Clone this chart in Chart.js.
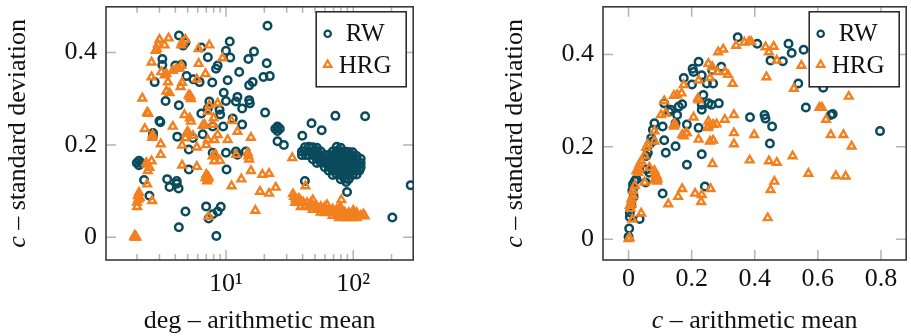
<!DOCTYPE html>
<html>
<head>
<meta charset="utf-8">
<script src="https://cdn.jsdelivr.net/npm/chart.js@4.4.1/dist/chart.umd.min.js"></script>
<style>
  html, body { margin: 0; padding: 0; background: #fff; width: 911px; height: 336px; overflow: hidden; }
  .box { position: absolute; top: 0; height: 336px; }
  #left { left: 0; width: 420px; }
  #right { left: 497px; width: 416px; }
</style>
</head>
<body>
<div class="box" id="left"><canvas id="degChart"></canvas></div>
<div class="box" id="right"><canvas id="cChart"></canvas></div>
<script>
// Series labels
const SERIES = ["RW", "HRG"];

// Left plot: [deg - arithmetic mean, c - standard deviation]
const rwDeg = [
  [21.2,0.458],[4.27,0.437],[4.8,0.422],[4.6,0.415],[6.4,0.411],[10.7,0.424],[10.0,0.404],[10.8,0.389],[7.2,0.39],
  [16.6,0.402],[15.0,0.386],[3.16,0.386],[3.16,0.373],[4.0,0.372],[4.5,0.374],[8.6,0.372],[8.35,0.365],[20.9,0.377],
  [12.7,0.358],[19.7,0.347],[22.1,0.349],[16.2,0.336],[15.2,0.329],[10.3,0.34],[7.8,0.335],[6.2,0.336],[5.55,0.342],
  [4.9,0.349],[2.75,0.336],[9.6,0.313],[12.3,0.304],[15.2,0.297],[15.4,0.29],[10.0,0.295],[11.97,0.294],[13.4,0.279],
  [3.35,0.295],[4.26,0.286],[7.4,0.294],[7.2,0.279],[6.4,0.268],[8.9,0.276],[9.0,0.266],[20.3,0.27],[11.3,0.257],
  [13.4,0.244],[3.0,0.252],[3.05,0.249],[7.86,0.24],[9.5,0.24],[4.14,0.218],[5.5,0.215],[6.56,0.223],[2.67,0.226],
  [2.67,0.219],[25.4,0.208],[28.5,0.2],[7.86,0.183],[10.0,0.183],[11.97,0.186],[12.3,0.179],[14.3,0.186],[5.1,0.19],
  [5.1,0.147],[10.1,0.147],[2.27,0.124],[3.45,0.126],[4.1,0.122],[3.6,0.109],[4.24,0.106],[4.1,0.116],[2.5,0.09],
  [4.8,0.056],[6.98,0.067],[7.3,0.041],[7.86,0.05],[8.6,0.056],[9.1,0.066],[4.26,0.022],[8.4,0.003],
  [72.4,0.263],[124,0.262],[47,0.247],[56.5,0.232],[39.8,0.22],[41.7,0.122],[89.4,0.098],[203,0.043],[283,0.113],
  [26.5,0.235],[24.4,0.235],[25.4,0.2399],[25.4,0.2301],
  [2.16,0.161],[1.99,0.161],[2.07,0.1659],[2.07,0.1561],
  [41.7,0.195],[44.8,0.196],[48.1,0.195],[51.8,0.194],[74.2,0.196],[79.7,0.194],
  [39.5,0.186],[41.7,0.187],[44.8,0.186],[48.1,0.186],[51.8,0.187],[55.6,0.186],[69.0,0.186],[74.2,0.187],[79.7,0.186],
  [85.7,0.186],[92.1,0.185],[99.0,0.184],
  [39.5,0.178],[42.5,0.178],[44.8,0.179],[48.1,0.178],[51.8,0.178],[55.6,0.177],[59.8,0.178],[64.2,0.178],[69.0,0.178],
  [74.2,0.178],[79.7,0.179],[85.7,0.178],[92.1,0.178],[99.0,0.177],[106.4,0.176],
  [48.1,0.169],[51.8,0.17],[55.6,0.169],[59.8,0.169],[64.2,0.17],[69.0,0.169],[74.2,0.169],[79.7,0.168],[85.7,0.169],
  [92.1,0.169],[99.0,0.17],[106.4,0.169],[114.4,0.17],
  [51.8,0.161],[55.6,0.162],[59.8,0.161],[64.2,0.161],[69.0,0.16],[74.2,0.161],[79.7,0.161],[85.7,0.162],[92.1,0.161],
  [99.0,0.161],[106.4,0.16],[114.4,0.161],
  [59.8,0.152],[64.2,0.153],[69.0,0.152],[74.2,0.152],[79.7,0.152],[85.7,0.151],[92.1,0.152],[99.0,0.152],[106.4,0.153],
  [114.4,0.152],
  [64.2,0.144],[69.0,0.144],[74.2,0.145],[79.7,0.144],[85.7,0.144],[92.1,0.143],[99.0,0.144],[106.4,0.144],[112,0.145],
  [69.0,0.135],[74.2,0.136],[79.7,0.135],[85.7,0.135],[92.1,0.136],[99.0,0.135],[106.4,0.136],
  [79.7,0.126],[85.7,0.127],[92.1,0.126],[88,0.12]
];
const hrgDeg = [
  [3.0,0.428],[3.54,0.431],[2.92,0.418],[3.29,0.416],[2.8,0.404],[2.86,0.408],[4.52,0.422],[4.8,0.428],[4.45,0.416],
  [7.4,0.416],[6.1,0.408],[9.4,0.388],[2.6,0.379],[2.6,0.347],[3.1,0.358],[3.3,0.351],[3.4,0.354],[3.82,0.361],
  [4.07,0.365],[4.45,0.372],[4.32,0.366],[6.1,0.376],[6.9,0.354],[5.9,0.342],[4.52,0.335],[3.5,0.336],[3.4,0.316],
  [3.6,0.313],[4.4,0.326],[5.2,0.304],[5.1,0.308],[5.3,0.3],[5.25,0.306],[2.2,0.301],[2.4,0.27],[2.45,0.268],
  [7.4,0.286],[8.6,0.29],[7.2,0.272],[4.72,0.265],[5.2,0.258],[5.3,0.251],[6.77,0.244],[8.0,0.258],[3.82,0.24],
  [11.06,0.252],[2.3,0.235],[2.63,0.216],[2.65,0.222],[3.07,0.202],[3.07,0.179],[4.52,0.199],[5.9,0.195],[4.9,0.225],
  [5.5,0.22],[5.0,0.229],[4.8,0.215],[7.0,0.2],[6.56,0.242],[7.86,0.244],[8.6,0.222],[8.1,0.211],[7.2,0.211],
  [10.3,0.211],[12.3,0.229],[15.7,0.216],[8.1,0.165],[8.96,0.166],[8.25,0.179],[7.86,0.176],[12.0,0.179],[14.8,0.183],
  [15.2,0.169],[15.0,0.176],[15.7,0.144],[19.3,0.136],[21.8,0.138],[13.2,0.126],[11.06,0.111],[18.5,0.099],
  [21.8,0.095],[24.6,0.108],[17.0,0.058],[33.2,0.172],[7.0,0.136],[7.2,0.126],[6.9,0.129],[7.1,0.132],[7.3,0.13],
  [7.1,0.122],[4.52,0.156],[5.9,0.153],[2.4,0.158],[2.5,0.151],[2.43,0.144],[2.6,0.165],[2.36,0.161],[2.07,0.097],
  [2.03,0.09],[2.1,0.086],[2.0,0.076],[2.0,0.066],[2.05,0.082],[2.4,0.115],[2.63,0.079],[1.92,0.004],[1.95,0.002],
  [1.9,0.001],[1.93,0.0],[1.97,0.0],[7.3,0.045],[42.1,0.111],[80.6,0.081],
  [33.6,0.094],[35.3,0.083],[34.3,0.088],[36.3,0.076],[38.6,0.079],[37.3,0.084],
  [35.0,0.075],[37.4,0.075],[40.3,0.076],[43.3,0.075],[46.5,0.075],[48.1,0.081],
  [38.7,0.066],[41.7,0.067],[44.8,0.066],[48.1,0.066],[51.8,0.067],[55.6,0.066],[59.8,0.066],[62.3,0.07],
  [48.1,0.06],[51.8,0.06],[55.6,0.061],[59.8,0.06],[64.2,0.06],[69.0,0.061],[74.2,0.06],[79.7,0.06],[79,0.066],
  [55.6,0.054],[59.8,0.053],[64.2,0.054],[69.0,0.053],[74.2,0.054],[79.7,0.053],[85.7,0.054],[92.1,0.053],
  [99.0,0.054],[100,0.058],[106.4,0.053],
  [69.0,0.047],[74.2,0.047],[79.7,0.048],[85.7,0.047],[92.1,0.047],[99.0,0.048],[106.4,0.047],[114.4,0.047],
  [120,0.05],[123,0.046],[77.3,0.042],[85.7,0.042],[95.5,0.042],[106.4,0.042]
];

// Right plot: [c - arithmetic mean, c - standard deviation]
const rwC = [
  [0.346,0.437],[0.408,0.423],[0.507,0.423],[0.517,0.403],[0.555,0.41],[0.45,0.387],[0.489,0.385],[0.538,0.337],
  [0.617,0.328],[0.562,0.285],[0.641,0.269],[0.647,0.271],[0.797,0.234],[0.385,0.264],[0.431,0.269],[0.434,0.261],
  [0.455,0.244],[0.448,0.207],[0.222,0.384],[0.203,0.369],[0.206,0.362],[0.294,0.373],[0.265,0.366],[0.232,0.355],
  [0.248,0.337],[0.201,0.335],[0.268,0.337],[0.175,0.349],[0.237,0.312],[0.232,0.291],[0.253,0.294],[0.263,0.291],
  [0.286,0.294],[0.232,0.28],[0.113,0.294],[0.134,0.28],[0.154,0.269],[0.17,0.292],[0.159,0.287],[0.128,0.276],
  [0.082,0.251],[0.108,0.244],[0.077,0.237],[0.185,0.248],[0.222,0.241],[0.149,0.251],[0.072,0.219],[0.077,0.212],
  [0.066,0.205],[0.113,0.214],[0.149,0.201],[0.118,0.187],[0.185,0.161],[0.232,0.184],[0.056,0.18],[0.061,0.187],
  [0.066,0.144],[0.056,0.151],[0.054,0.123],[0.02,0.126],[0.014,0.119],[0.025,0.13],[0.014,0.109],[0.012,0.105],
  [0.016,0.092],[0.108,0.099],[0.242,0.114],[0.009,0.073],[0.004,0.058],[0.004,0.048],[0.035,0.044],[0.002,0.023],
  [0.0,0.005]
];
const hrgC = [
  [0.341,0.419],[0.367,0.426],[0.382,0.428],[0.389,0.427],[0.284,0.405],[0.3,0.411],[0.434,0.416],[0.46,0.417],
  [0.445,0.405],[0.47,0.387],[0.548,0.376],[0.437,0.351],[0.253,0.38],[0.265,0.373],[0.282,0.362],[0.306,0.362],
  [0.315,0.356],[0.33,0.337],[0.222,0.344],[0.258,0.349],[0.175,0.334],[0.524,0.326],[0.698,0.309],[0.605,0.285],
  [0.613,0.285],[0.626,0.259],[0.168,0.316],[0.154,0.312],[0.144,0.311],[0.222,0.301],[0.22,0.305],[0.113,0.299],
  [0.103,0.269],[0.118,0.273],[0.334,0.269],[0.305,0.259],[0.253,0.255],[0.251,0.241],[0.206,0.264],[0.144,0.244],
  [0.147,0.249],[0.17,0.226],[0.182,0.23],[0.222,0.216],[0.258,0.212],[0.268,0.214],[0.334,0.23],[0.334,0.206],
  [0.398,0.226],[0.384,0.171],[0.445,0.169],[0.47,0.166],[0.52,0.18],[0.266,0.163],[0.57,0.142],[0.657,0.137],
  [0.688,0.136],[0.462,0.125],[0.45,0.107],[0.441,0.046],[0.17,0.109],[0.157,0.092],[0.211,0.099],[0.232,0.096],
  [0.23,0.081],[0.26,0.109],[0.126,0.076],[0.04,0.056],[0.012,0.043],[0.0,0.001],[0.003,0.003],[0.641,0.226],
  [0.681,0.226],[0.707,0.201],[0.082,0.234],[0.082,0.212],[0.061,0.205],[0.056,0.198],[0.051,0.18],[0.04,0.169],
  [0.035,0.162],[0.033,0.151],[0.03,0.144],[0.025,0.148],[0.066,0.155],[0.082,0.148],[0.087,0.133],[0.092,0.13],
  [0.082,0.128],[0.089,0.137],[0.085,0.14],[0.09,0.125],[0.051,0.123],[0.02,0.116],[0.014,0.105],[0.014,0.094],
  [0.009,0.087],[0.009,0.076],[0.006,0.066],[0.004,0.073],[0.185,0.23],[0.175,0.223],[0.268,0.248],[0.279,0.249],
  [0.253,0.244],[0.144,0.248]
];

// Axis ticks
const DEG_TICKS = [10, 100];
const DEG_TICK_LABELS = ["10\u00B9", "10\u00B2"];
const DEG_MINOR = [2, 3, 4, 5, 6, 7, 8, 9, 20, 30, 40, 50, 60, 70, 80, 90, 200];
const C_TICKS = [0, 0.2, 0.4, 0.6, 0.8];
const C_TICK_LABELS = ["0", "0.2", "0.4", "0.6", "0.8"];
const Y_TICKS = [0, 0.2, 0.4];
const Y_TICK_LABELS = ["0", "0.2", "0.4"];

const TEAL = "#0a4a5d";
const ORANGE = "#f2801f";
const FONT = '"Liberation Serif", "Times New Roman", serif';

function drawParts(ctx, parts, x, y, size) {
  let w = 0;
  parts.forEach((p) => {
    ctx.font = (p[1] ? "italic " : "") + size + "px " + FONT;
    p.w = ctx.measureText(p[0]).width;
    w += p.w;
  });
  let cx = x - w / 2;
  ctx.textAlign = "left";
  ctx.textBaseline = "alphabetic";
  parts.forEach((p) => {
    ctx.font = (p[1] ? "italic " : "") + size + "px " + FONT;
    ctx.fillText(p[0], cx, y);
    cx += p.w;
  });
}

// Box, inward ticks, legend and axis titles
const framePlugin = {
  id: "frame",
  afterDatasetsDraw(chart, args, o) {
    const { ctx, chartArea: a, scales } = chart;
    ctx.save();
    ctx.strokeStyle = "#b3b3b3";
    ctx.lineWidth = 1.5;
    ctx.beginPath();
    const tickX = (v, len) => {
      const p = scales.x.getPixelForValue(v);
      ctx.moveTo(p, a.bottom); ctx.lineTo(p, a.bottom - len);
      ctx.moveTo(p, a.top); ctx.lineTo(p, a.top + len);
    };
    o.xMajor.forEach((v) => tickX(v, 10));
    (o.xMinor || []).forEach((v) => tickX(v, 6));
    o.yMajor.forEach((v) => {
      const p = scales.y.getPixelForValue(v);
      ctx.moveTo(a.left, p); ctx.lineTo(a.left + 10, p);
      ctx.moveTo(a.right, p); ctx.lineTo(a.right - 10, p);
    });
    ctx.stroke();
    ctx.strokeStyle = "#3a3a3a";
    ctx.lineWidth = 1.6;
    ctx.strokeRect(a.left, a.top, a.width, a.height);

    // legend
    const lx = a.right - 97, ly = a.top + 5, lw = 90, lh = 75;
    ctx.fillStyle = "#fff";
    ctx.fillRect(lx, ly, lw, lh);
    ctx.strokeStyle = "#222";
    ctx.lineWidth = 1.5;
    ctx.strokeRect(lx, ly, lw, lh);
    const marks = [
      { style: "circle", color: TEAL, r: 3.2, w: 2.2, y: ly + 22, ty: ly + 29 },
      { style: "triangle", color: ORANGE, r: 4.3, w: 2.2, y: ly + 53, ty: ly + 61.5 },
    ];
    marks.forEach((m, i) => {
      ctx.strokeStyle = m.color;
      ctx.fillStyle = "rgba(0,0,0,0)";
      ctx.lineWidth = m.w;
      Chart.helpers.drawPoint(ctx, { pointStyle: m.style, radius: m.r, rotation: 0, borderWidth: m.w }, lx + 11.5, m.y);
      ctx.fillStyle = "#111";
      ctx.font = "25px " + FONT;
      ctx.textAlign = "center";
      ctx.textBaseline = "alphabetic";
      ctx.fillText(SERIES[i], lx + 49, m.ty);
    });

    // axis titles
    ctx.fillStyle = "#111";
    drawParts(ctx, o.xTitle, (a.left + a.right) / 2, 328, 26);
    ctx.translate(25, (a.top + a.bottom) / 2);
    ctx.rotate(-Math.PI / 2);
    drawParts(ctx, o.yTitle, 0, 0, 26);
    ctx.restore();
  },
};

function makeChart(id, opts) {
  return new Chart(document.getElementById(id), {
    type: "scatter",
    data: {
      datasets: [
        {
          label: SERIES[0],
          data: opts.rw.map(([x, y]) => ({ x, y })),
          pointStyle: "circle",
          pointRadius: 3.75,
          pointHoverRadius: 3.75,
          borderWidth: 2.5,
          borderColor: TEAL,
          backgroundColor: "rgba(0,0,0,0)",
          order: 1,
        },
        {
          label: SERIES[1],
          data: opts.hrg.map(([x, y]) => ({ x, y })),
          pointStyle: "triangle",
          pointRadius: 4.4,
          pointHoverRadius: 4.4,
          borderWidth: 2.4,
          borderColor: ORANGE,
          backgroundColor: "rgba(0,0,0,0)",
          order: 0,
        },
      ],
    },
    options: {
      responsive: true,
      maintainAspectRatio: false,
      animation: false,
      devicePixelRatio: 1,
      layout: { padding: { top: 4, right: opts.padRight, left: 0, bottom: 0 } },
      plugins: {
        legend: { display: false },
        tooltip: { enabled: false },
        frame: { xMajor: opts.xTicks, xMinor: opts.xMinor, yMajor: Y_TICKS, xTitle: opts.xTitle, yTitle: [["c", true], [" \u2013 standard deviation", false]] },
      },
      scales: {
        x: {
          type: opts.xType,
          min: opts.xMin,
          max: opts.xMax,
          grid: { display: false, drawTicks: false },
          border: { display: false },
          afterBuildTicks: (s) => { s.ticks = opts.xTicks.map((v) => ({ value: v })); },
          afterFit: (s) => { s.height = 76; s.paddingLeft = 0; s.paddingRight = 0; },
          ticks: {
            autoSkip: false,
            maxRotation: 0,
            padding: opts.xPad,
            color: "#111",
            font: { family: FONT, size: 26 },
            callback: (v, i) => opts.xLabels[i],
          },
        },
        y: {
          min: opts.yMin,
          max: opts.yMax,
          grid: { display: false, drawTicks: false },
          border: { display: false },
          afterBuildTicks: (s) => { s.ticks = Y_TICKS.map((v) => ({ value: v })); },
          afterFit: (s) => { s.width = 106; s.paddingTop = 0; s.paddingBottom = 0; },
          ticks: {
            padding: 9,
            color: "#111",
            font: { family: FONT, size: 26 },
            callback: (v, i) => Y_TICK_LABELS[i],
          },
        },
      },
    },
    plugins: [framePlugin],
  });
}

makeChart("degChart", {
  rw: rwDeg, hrg: hrgDeg, xType: "logarithmic", xMin: 1.14, xMax: 296,
  xTicks: DEG_TICKS, xLabels: DEG_TICK_LABELS, xMinor: DEG_MINOR, xPad: 9,
  yMin: -0.049, yMax: 0.499, padRight: 5,
  xTitle: [["deg \u2013 arithmetic mean", false]],
});
makeChart("cChart", {
  rw: rwC, hrg: hrgC, xType: "linear", xMin: -0.081, xMax: 0.88,
  xTicks: C_TICKS, xLabels: C_TICK_LABELS, xMinor: [], xPad: 4,
  yMin: -0.045, yMax: 0.503, padRight: 1,
  xTitle: [["c", true], [" \u2013 arithmetic mean", false]],
});
</script>
</body>
</html>
